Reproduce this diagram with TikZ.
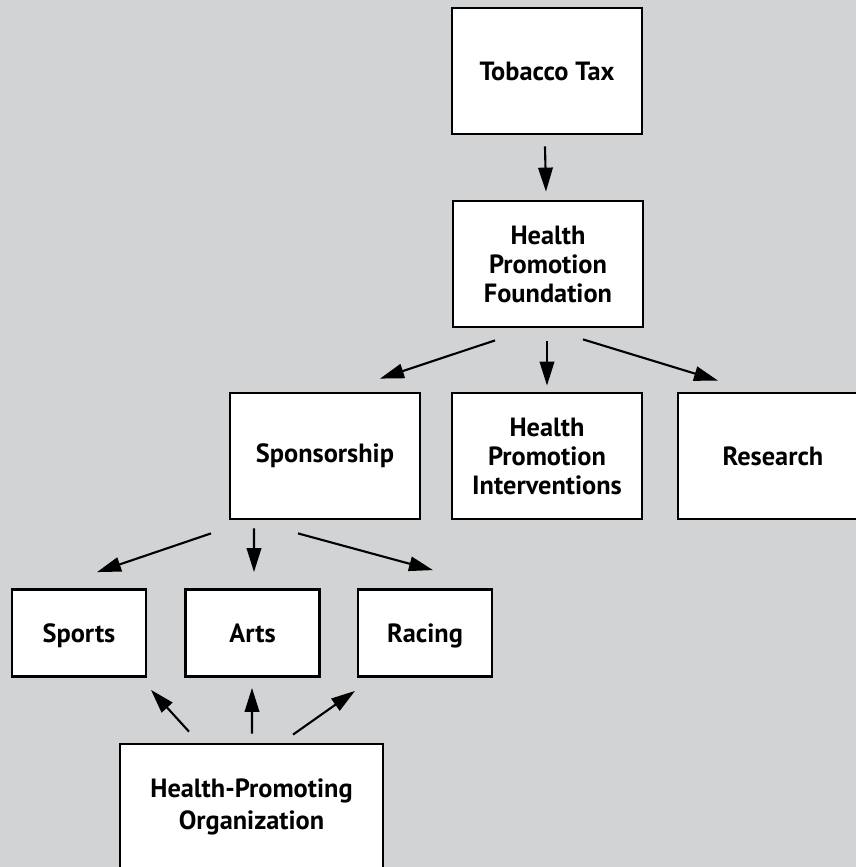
\documentclass[tikz,border=0pt]{standalone}
\usepackage{fontspec}
\setmainfont{PT Sans}
\usetikzlibrary{arrows.meta}
\definecolor{panelgray}{RGB}{209,211,212}

\begin{document}
\begin{tikzpicture}[x=0.02cm, y=-0.02cm,
    box/.style={rectangle, draw, fill=white, line width=1.6pt, align=center,
      font=\bfseries\fontsize{15}{16.5}\selectfont, minimum width=3.8cm, minimum height=2.52cm, inner sep=0pt},
    smallbox/.style={box, minimum width=2.68cm, minimum height=1.74cm, text height=2.6ex, text depth=0.5ex},
    link/.style={->, line width=1.2pt},
    >={Triangle[length=0.48cm, width=0.29cm]}]
    \path[use as bounding box, fill=panelgray] (0,0) rectangle (856,867);
    \clip (0,0) rectangle (856,867);

    \node[box] (tax) at (547, 71) {Tobacco Tax};
    \node[box] (hpf) at (548, 264) {Health\\Promotion\\Foundation};
    \node[box] (spons) at (325, 456) {Sponsorship};
    \node[box] (hpi) at (547, 456) {Health\\Promotion\\Interventions};
    \node[box] (res) at (773, 456) {Research};
    \node[smallbox] (sports) at (79, 633) {Sports};
    \node[smallbox] (arts) at (252.5, 633) {Arts};
    \node[smallbox] (racing) at (425, 633) {Racing};
    \node[box, minimum width=5.26cm, font=\bfseries\fontsize{15}{18}\selectfont] (hpo) at (251.5, 807) {Health-Promoting\\Organization};

    \draw[link] ([shift={(-2,11)}]tax.south) -- ([shift={(-2,-8)}]hpf.north);
    \draw[link] ([shift={(-53,12)}]hpf.south) -- ([shift={(55,-13)}]spons.north);
    \draw[link] ([shift={(-1,13)}]hpf.south) -- ([shift={(0,-6)}]hpi.north);
    \draw[link] ([shift={(35,11)}]hpf.south) -- ([shift={(-55,-11)}]res.north);
    \draw[link] ([shift={(-114,13)}]spons.south) -- ([shift={(18,-16)}]sports.north);
    \draw[link] ([shift={(-71,8)}]spons.south) -- ([shift={(1.5,-16)}]arts.north);
    \draw[link] ([shift={(-27,13)}]spons.south) -- ([shift={(8,-18)}]racing.north);
    \draw[link] ([shift={(-62.5,-11)}]hpo.north) -- ([shift={(72,12)}]sports.south);
    \draw[link] ([shift={(0.5,-9)}]hpo.north) -- ([shift={(-0.5,10)}]arts.south);
    \draw[link] ([shift={(41.5,-8)}]hpo.north) -- ([shift={(-70,13)}]racing.south);
\end{tikzpicture}
\end{document}
